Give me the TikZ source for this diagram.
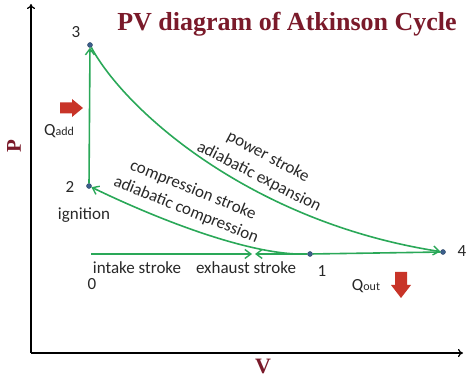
\documentclass[tikz,border=0pt]{standalone}
\usepackage{fontspec}
\setmainfont{Carlito}
\newfontfamily\titlefont{Liberation Serif}
\usetikzlibrary{arrows.meta}
\definecolor{cgreen}{RGB}{42,168,88}
\definecolor{cdot}{RGB}{60,95,140}
\definecolor{cred}{RGB}{200,52,40}
\definecolor{ctitle}{RGB}{122,26,42}
\definecolor{ctext}{RGB}{40,40,40}
\begin{document}
\begin{tikzpicture}[x=1pt,y=-1pt,
  gline/.style={draw=cgreen,line width=1.6pt},
  garrow/.style={gline,-{Straight Barb[length=6pt,width=9pt,line width=1.4pt]}},
  dotnode/.style={circle,fill=cdot,draw=cdot!70!black,inner sep=0pt,minimum size=5pt},
  lbl/.style={text=ctext,font=\fontsize{17}{19}\selectfont,inner sep=0pt},
  axis/.style={draw=black,line width=1.2pt,-{To[length=5pt,width=8pt]}},
  redfill/.style={fill=cred,draw=none},
  titlestyle/.style={text=ctitle,font=\titlefont\bfseries\fontsize{26}{29}\selectfont,inner sep=0pt}]
\useasboundingbox (0,0) rectangle (474,379);
% axes
\coordinate (O) at (31,353);
\coordinate (ytop) at (31,4);
\coordinate (xend) at (463,353);
\draw[axis] (O) -- (ytop);
\draw[axis] (O) -- (xend);
\node[titlestyle] (title) at (287,24) {PV diagram of Atkinson Cycle};
\node[titlestyle,font=\titlefont\bfseries\fontsize{21}{24}\selectfont,rotate=90] (P) at (14,146) {P};
\node[titlestyle,font=\titlefont\bfseries\fontsize{22}{24}\selectfont] (V) at (263,366) {V};
% points
\node[dotnode] (p3) at (90,45) {};
\node[dotnode] (p2) at (89,186) {};
\node[dotnode] (p1) at (310,254) {};
\node[dotnode] (p4) at (443,252) {};
\coordinate (p0) at (91,254);
\coordinate (iend) at (252,254);
\coordinate (eend) at (255,254);
% process lines
\draw[garrow] (p2) -- (p3);
\draw[garrow] (p3) .. controls (125,110) and (250,222) .. (p4);
\draw[gline] (p4) -- (p1);
\draw[garrow] (p1) .. controls (250,256) and (155,218) .. (p2);
\draw[garrow] (p0) -- (iend);
\draw[garrow] (p1) -- (eend);
% labels
\node[lbl] (l3) at (76,32) {3};
\node[lbl] (l2) at (70,187) {2};
\node[lbl] (l1) at (322,271) {1};
\node[lbl] (l4) at (462,251) {4};
\node[lbl] (l0) at (92,284) {0};
\node[lbl] (ign) at (84,215) {ignition};
\node[lbl] (intake) at (137,268) {intake stroke};
\node[lbl] (exhaust) at (246,268) {exhaust stroke};
\node[lbl] (qadd) at (59,131) {Q{\fontsize{12}{12}\selectfont add}};
\node[lbl] (qout) at (366,286) {Q{\fontsize{12}{12}\selectfont out}};
\node[lbl,rotate=-28] (power) at (268,157) {power stroke};
\node[lbl,rotate=-27] (adexp) at (259,177) {adiabatic expansion};
\node[lbl,rotate=-22] (comp) at (193,190) {compression stroke};
\node[lbl,rotate=-22] (adcomp) at (186,210) {adiabatic compression};
% heat arrows
\fill[redfill] (60,102.5) -- (72,102.5) -- (72,99) -- (83,108) -- (72,117) -- (72,113.5) -- (60,113.5) -- cycle;
\fill[redfill] (395,272) -- (407,272) -- (407,285) -- (411,285) -- (401,298) -- (391,285) -- (395,285) -- cycle;
\end{tikzpicture}
\end{document}
